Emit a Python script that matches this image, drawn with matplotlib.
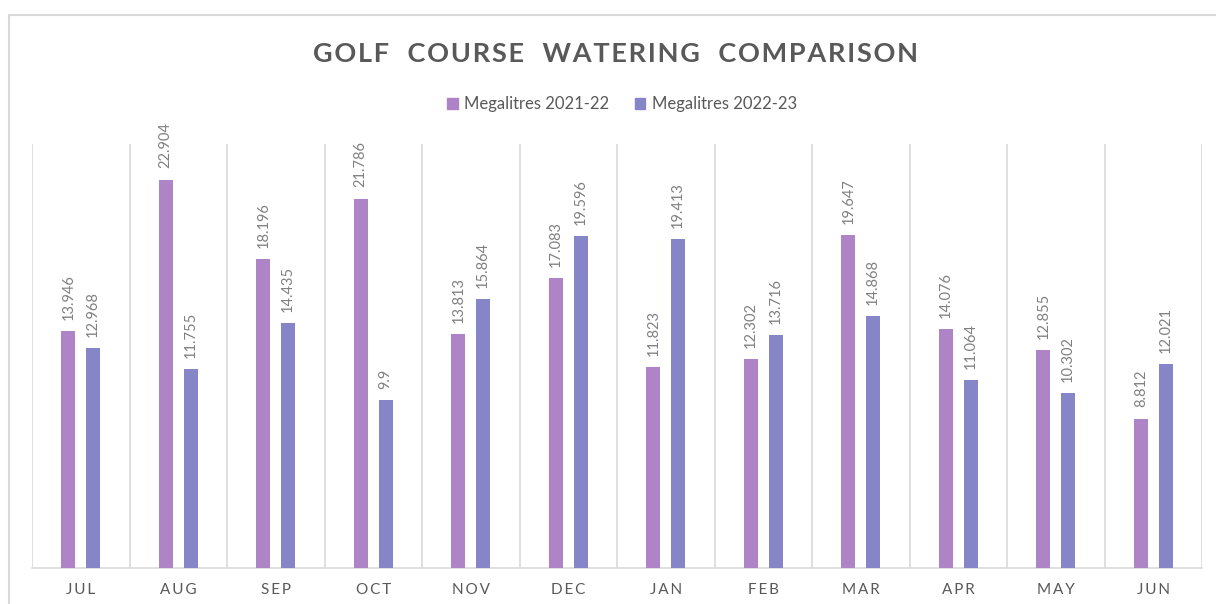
import matplotlib.pyplot as plt
import numpy as np
from matplotlib.patches import Rectangle, Patch

# data
months = ['JUL', 'AUG', 'SEP', 'OCT', 'NOV', 'DEC', 'JAN', 'FEB', 'MAR', 'APR', 'MAY', 'JUN']
ml_2122 = [13.946, 22.904, 18.196, 21.786, 13.813, 17.083, 11.823, 12.302, 19.647, 14.076, 12.855, 8.812]
ml_2223 = [12.968, 11.755, 14.435, 9.9, 15.864, 19.596, 19.413, 13.716, 14.868, 11.064, 10.302, 12.021]
series_names = ['Megalitres 2021-22', 'Megalitres 2022-23']

c1 = '#AE84C6'
c2 = '#8585C8'
grid_c = '#D9D9D9'
text_c = '#595959'

plt.rcParams['font.family'] = ['Lato', 'DejaVu Sans']


def spaced(s, sep='\u2009'):
    # fake letter spacing like excel
    return sep.join(list(s))


fig = plt.figure(figsize=(12.16, 6.04), dpi=100)

# chart border (runs off right and bottom like the screenshot)
fig.patches.append(Rectangle((9 / 1216, -0.05), 1.2, 1 - 15 / 604 + 0.05,
                             transform=fig.transFigure, fill=False,
                             edgecolor=grid_c, lw=1.5))

ax = fig.add_axes([32 / 1216, 1 - 568 / 604, 1170 / 1216, 424 / 604])

x = np.arange(len(months))
w = 0.145
off = 0.128
b1 = ax.bar(x - off, ml_2122, w, color=c1, zorder=3)
b2 = ax.bar(x + off, ml_2223, w, color=c2, zorder=3)

for bars, vals in ((b1, ml_2122), (b2, ml_2223)):
    for rect, v in zip(bars, vals):
        ax.annotate('{:g}'.format(v), (rect.get_x() + rect.get_width() / 2, v),
                    xytext=(0, 8), textcoords='offset points', rotation=90,
                    ha='center', va='bottom', fontsize=10.5, color='#808080')

ax.set_xlim(-0.5, len(months) - 0.5)
ax.set_ylim(0, 25)
for b in np.arange(-0.5, len(months), 1):
    ax.axvline(b, color=grid_c, lw=1.2, zorder=1)

for s in ['top', 'left', 'right']:
    ax.spines[s].set_visible(False)
ax.spines['bottom'].set_color(grid_c)
ax.spines['bottom'].set_linewidth(1.2)
ax.set_yticks([])
ax.set_xticks(x)
ax.set_xticklabels([spaced(m) for m in months], fontsize=11, color=text_c)
ax.tick_params(axis='x', length=0, pad=11)

title = 'GOLF  COURSE  WATERING  COMPARISON'
fig.text(615 / 1216, 1 - 54 / 604, spaced(title, '\u200a'),
         ha='center', va='center', fontsize=19.5, fontweight='bold', color=text_c)

handles = [Patch(color=c1), Patch(color=c2)]
fig.legend(handles, series_names, loc='center', bbox_to_anchor=(622 / 1216, 1 - 104 / 604),
           ncol=2, frameon=False, fontsize=12, labelcolor=text_c,
           handlelength=0.65, handleheight=0.65, handletextpad=0.4, columnspacing=1.5)

fig.savefig('out.png', dpi=100, facecolor='white')
